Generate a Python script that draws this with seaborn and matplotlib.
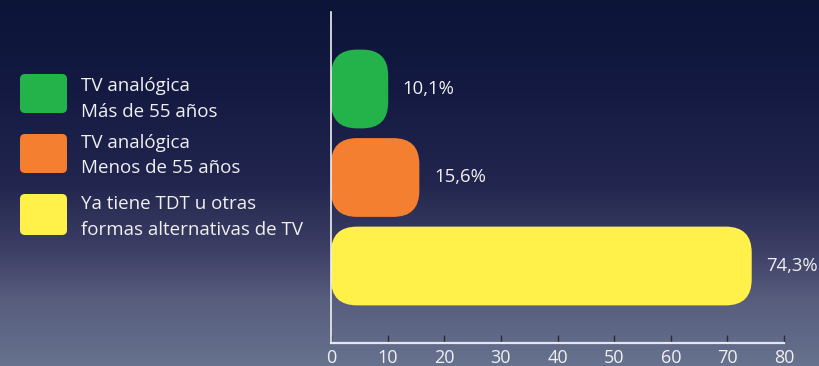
import numpy as np
import pandas as pd
import matplotlib
matplotlib.use("Agg")
import matplotlib.pyplot as plt
from matplotlib.patches import FancyBboxPatch
from matplotlib.colors import LinearSegmentedColormap
import seaborn as sns

categories = ["TV analógica\nMás de 55 años", "TV analógica\nMenos de 55 años",
              "Ya tiene TDT u otras\nformas alternativas de TV"]
values = [10.1, 15.6, 74.3]
value_labels = ["10,1%", "15,6%", "74,3%"]
colors = ["#24b34b", "#f47f31", "#fff04a"]
xticks = [0, 10, 20, 30, 40, 50, 60, 70, 80]

sns.set_theme(style="white")
plt.rcParams["font.family"] = ["Open Sans", "DejaVu Sans"]

W, H = 820, 366
fig = plt.figure(figsize=(W / 100, H / 100), dpi=100)

# background gradient
bg = fig.add_axes([0, 0, 1, 1], zorder=-10)
bg.axis("off")
cmap = LinearSegmentedColormap.from_list(
    "bg",
    [(0.0, "#0c1438"), (0.25, "#141a42"), (0.5, "#22264e"),
     (0.68, "#3c3e64"), (0.82, "#585d7e"), (1.0, "#66728e")])
grad = np.linspace(0, 1, 256).reshape(-1, 1)
bg.imshow(grad, aspect="auto", cmap=cmap, extent=[0, 1, 0, 1], origin="upper")
bg.set_xlim(0, 1); bg.set_ylim(0, 1)

AX_L, AX_R, AX_T, AX_B = 331, 784, 12, 343
ax = fig.add_axes([AX_L / W, 1 - AX_B / H, (AX_R - AX_L) / W, (AX_B - AX_T) / H])
ax.set_facecolor("none")

df = pd.DataFrame({"cat": categories, "val": values})
sns.barplot(data=df, x="val", y="cat", hue="cat", palette=colors, orient="h",
            ax=ax, legend=False, width=0.89, saturation=1)

ax.set_xlim(0, 80)
ax.set_ylim(2.87, -0.87)

# replace bars with rounded ones
xpx = (AX_R - AX_L) / 80.0
ypx = (AX_B - AX_T) / (2.87 + 0.87)
radius_px = 26
for p in list(ax.patches):
    x0, y0 = p.get_x(), p.get_y()
    w, h = p.get_width(), p.get_height()
    fc = p.get_facecolor()
    p.remove()
    r = min(radius_px, w * xpx / 2 - 0.5, h * ypx / 2 - 0.5)
    fb = FancyBboxPatch((x0, y0), w, h,
                        boxstyle=f"round,pad=0,rounding_size={r / xpx}",
                        mutation_aspect=xpx / ypx,
                        facecolor=fc, edgecolor="none", zorder=2)
    ax.add_patch(fb)

for i, (v, lab) in enumerate(zip(values, value_labels)):
    ax.annotate(lab, (v, i), xytext=(10.5, 0), textcoords="offset points",
                va="center", ha="left", color="#f0f0f0", fontsize=13.3,
                clip_on=False)

ax.set_xticks(xticks)
ax.set_xticklabels([str(t) for t in xticks])
ax.tick_params(axis="x", direction="in", length=6, width=1, color="#2a2a3a",
               labelcolor="#f0f0f0", labelsize=13, pad=4, bottom=True)
ax.tick_params(axis="y", left=False, labelleft=False)
ax.set_xlabel(""); ax.set_ylabel("")
for s in ["top", "right"]:
    ax.spines[s].set_visible(False)
ax.spines["left"].set_color("#f0f0f0")
ax.spines["left"].set_linewidth(1.2)
ax.spines["bottom"].set_color("#e6e6ee")
ax.spines["bottom"].set_linewidth(1.6)

# legend (manual, in pixel coords)
legend_rows = [(74, 113, 86, 112), (134, 173, 143, 168), (194, 235, 204, 230)]
for (ytop, ybot, t1, t2), cat, col in zip(legend_rows, categories, colors):
    sq = FancyBboxPatch((20 / W, 1 - ybot / H), 47 / W, (ybot - ytop) / H,
                        boxstyle=f"round,pad=0,rounding_size={5 / W}",
                        mutation_aspect=W / H,
                        transform=fig.transFigure, facecolor=col,
                        edgecolor="none")
    fig.patches.append(sq)
    l1, l2 = cat.split("\n")
    fig.text(81 / W, 1 - t1 / H, l1, color="#f0f0f0", fontsize=13.5,
             va="center", ha="left")
    fig.text(81 / W, 1 - t2 / H, l2, color="#f0f0f0", fontsize=13.5,
             va="center", ha="left")

fig.savefig("out.png", dpi=100)
